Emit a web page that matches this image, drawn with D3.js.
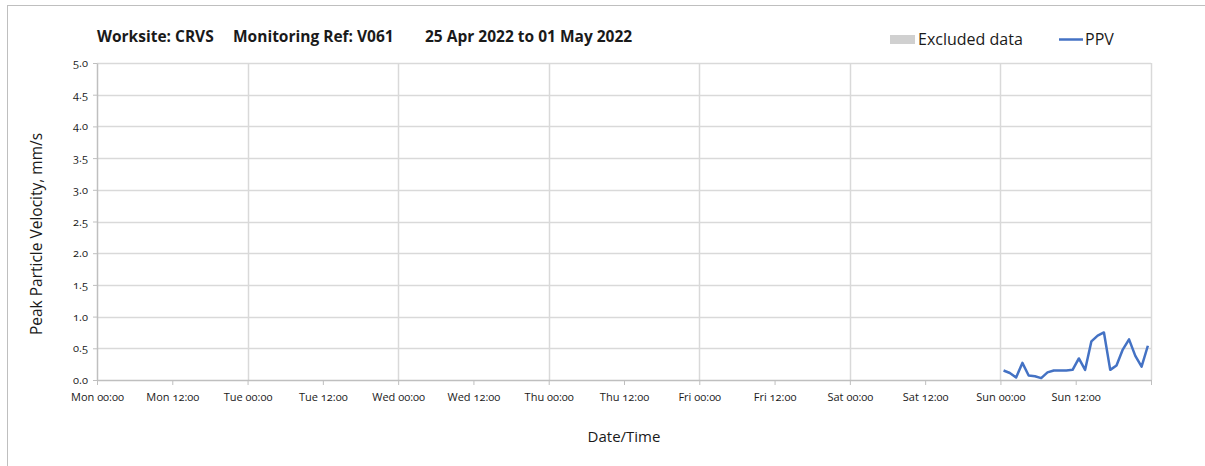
<!DOCTYPE html>
<html>
<head>
<meta charset="utf-8">
<script src="https://cdn.jsdelivr.net/npm/d3@7"></script>
<style>
  body { margin: 0; background: #fff; }
  svg text { font-family: "Open Sans", "Noto Sans", sans-serif; fill: #1a1a1a; }
  .tick text { font-variant-numeric: oldstyle-nums; }
</style>
</head>
<body>
<script>
// Width and height
var W = 1205, H = 466;
var margin = {top: 63, right: 54, bottom: 86, left: 97};
var width = W - margin.left - margin.right;
var height = H - margin.top - margin.bottom;

// chart data
var startDate = "2022-04-25 00:00";
var endDate = "2022-05-02 00:00";
var titleParts = ["Worksite: CRVS", "Monitoring Ref: V061", "25 Apr 2022 to 01 May 2022"];
var yTicks = [0, 0.5, 1, 1.5, 2, 2.5, 3, 3.5, 4, 4.5, 5];
var ppvTimes = ["2022-05-01 00:30", "2022-05-01 01:30", "2022-05-01 02:30", "2022-05-01 03:30",
    "2022-05-01 04:30", "2022-05-01 05:30", "2022-05-01 06:30", "2022-05-01 07:30",
    "2022-05-01 08:30", "2022-05-01 09:30", "2022-05-01 10:30", "2022-05-01 11:30",
    "2022-05-01 12:30", "2022-05-01 13:30", "2022-05-01 14:30", "2022-05-01 15:30",
    "2022-05-01 16:30", "2022-05-01 17:30", "2022-05-01 18:30", "2022-05-01 19:30",
    "2022-05-01 20:30", "2022-05-01 21:30", "2022-05-01 22:30", "2022-05-01 23:30"];
var ppvValues = [0.15, 0.11, 0.04, 0.27, 0.07, 0.06, 0.03, 0.12,
    0.15, 0.15, 0.15, 0.16, 0.34, 0.16, 0.61, 0.70,
    0.75, 0.16, 0.23, 0.48, 0.64, 0.38, 0.21, 0.54];

var parse = d3.timeParse("%Y-%m-%d %H:%M");
var dataset = ppvTimes.map(function(t, i) { return [parse(t), ppvValues[i]]; });

var svg = d3.select("body").append("svg")
    .attr("width", W)
    .attr("height", H);

// outer frame
svg.append("rect")
    .attr("x", 7.5).attr("y", 5.5)
    .attr("width", W + 10).attr("height", H + 10)
    .attr("fill", "none")
    .attr("stroke", "#bfbfbf");

var g = svg.append("g")
    .attr("transform", "translate(" + margin.left + "," + margin.top + ")");

var xScale = d3.scaleTime()
    .domain([parse(startDate), parse(endDate)])
    .range([0, width]);
var yScale = d3.scaleLinear()
    .domain([0, 5])
    .range([height, 0]);

var xTicks = d3.timeHour.every(12).range(parse(startDate), d3.timeHour.offset(parse(endDate), 1));

// gridlines
g.append("g").selectAll("line.h")
    .data(yTicks.slice(1))
    .enter().append("line")
    .attr("x1", 0).attr("x2", width)
    .attr("y1", function(d) { return Math.round(yScale(d)) + 0.5; })
    .attr("y2", function(d) { return Math.round(yScale(d)) + 0.5; })
    .attr("stroke", "#d9d9d9").attr("stroke-width", 1.5);

g.append("g").selectAll("line.v")
    .data(xTicks.filter(function(d, i) { return i % 2 == 0 && i > 0; }))
    .enter().append("line")
    .attr("x1", function(d) { return Math.round(xScale(d)) + 0.5; })
    .attr("x2", function(d) { return Math.round(xScale(d)) + 0.5; })
    .attr("y1", 0).attr("y2", height)
    .attr("stroke", "#d9d9d9").attr("stroke-width", 1.5);

// axes
var xAxis = d3.axisBottom(xScale)
    .tickValues(xTicks.slice(0, -1))
    .tickSize(5)
    .tickSizeOuter(0)
    .tickFormat(d3.timeFormat("%a %H:%M"));
var xAxisGroup = g.append("g")
    .attr("transform", "translate(0," + height + ")")
    .call(xAxis);
// closing tick at the right end
xAxisGroup.append("line")
    .attr("x1", width + 0.5).attr("x2", width + 0.5)
    .attr("y1", 0).attr("y2", 5)
    .attr("stroke", "#bfbfbf");

var yAxis = d3.axisLeft(yScale)
    .tickValues(yTicks)
    .tickSize(4)
    .tickSizeOuter(0)
    .tickFormat(d3.format(".1f"));
var yAxisGroup = g.append("g").call(yAxis);

[xAxisGroup, yAxisGroup].forEach(function(ax) {
    ax.selectAll("path.domain").attr("stroke", "#bfbfbf").attr("stroke-width", 1.5);
    ax.selectAll(".tick line").attr("stroke", "#bfbfbf");
    ax.selectAll(".tick text")
        .attr("fill", "#262626")
        .style("font-size", "11px");
});
xAxisGroup.selectAll(".tick text").attr("dy", "1.2em");
yAxisGroup.selectAll(".tick text").attr("x", -9);

// PPV line
var line = d3.line()
    .x(function(d) { return xScale(d[0]); })
    .y(function(d) { return yScale(d[1]); });

g.append("path")
    .datum(dataset)
    .attr("d", line)
    .attr("fill", "none")
    .attr("stroke", "#4472c4")
    .attr("stroke-width", 2.5)
    .attr("stroke-linejoin", "round");

// title, three pieces spaced like the original
var titleX = [97, 233, 425];
svg.append("g").selectAll("text")
    .data(titleParts)
    .enter().append("text")
    .attr("x", function(d, i) { return titleX[i]; })
    .attr("y", 42)
    .attr("font-weight", "bold")
    .style("font-size", "15.5px")
    .text(function(d) { return d; });

// legend
svg.append("rect")
    .attr("x", 890).attr("y", 35)
    .attr("width", 25).attr("height", 9)
    .attr("fill", "#d0d0d0");
svg.append("text")
    .attr("x", 918).attr("y", 45)
    .style("font-size", "16px")
    .text("Excluded data");
svg.append("line")
    .attr("x1", 1059).attr("x2", 1083)
    .attr("y1", 39.5).attr("y2", 39.5)
    .attr("stroke", "#4472c4").attr("stroke-width", 2.5);
svg.append("text")
    .attr("x", 1085).attr("y", 45)
    .style("font-size", "16px")
    .text("PPV");

// axis titles
svg.append("text")
    .attr("x", margin.left + width / 2).attr("y", 442)
    .attr("text-anchor", "middle")
    .style("font-size", "15px")
    .text("Date/Time");
svg.append("text")
    .attr("transform", "translate(42,234) rotate(-90)")
    .attr("text-anchor", "middle")
    .style("font-size", "15.5px")
    .text("Peak Particle Velocity, mm/s");
</script>
</body>
</html>
